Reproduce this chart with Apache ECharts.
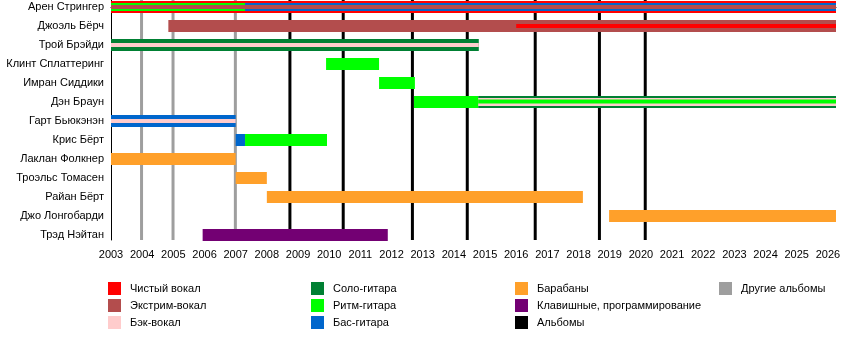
<!DOCTYPE html>
<html>
<head>
<meta charset="utf-8">
<script src="https://cdn.jsdelivr.net/npm/echarts@6/dist/echarts.min.js"></script>
<style>html,body{margin:0;padding:0;background:#fff}#c{width:850px;height:360px}</style>
</head>
<body>
<div id="c"></div>
<script>
const members = ['Арен Стрингер','Джоэль Бёрч','Трой Брэйди','Клинт Сплаттеринг','Имран Сиддики','Дэн Браун','Гарт Бьюкэнэн','Крис Бёрт','Лаклан Фолкнер','Троэльс Томасен','Райан Бёрт','Джо Лонгобарди','Трэд Нэйтан'];
const roles = ['Чистый вокал','Экстрим-вокал','Бэк-вокал','Соло-гитара','Ритм-гитара','Бас-гитара','Барабаны','Клавишные, программирование'];
const roleColors = ['#ff0000','#b34d4d','#ffcccc','#008033','#00ff00','#0066cc','#ffa02a','#730073'];
const tickYears = [2003,2004,2005,2006,2007,2008,2009,2010,2011,2012,2013,2014,2015,2016,2017,2018,2019,2020,2021,2022,2023,2024,2025,2026];
const START = 2003;
const END = 2026.26;
const albums = [2008.74, 2010.45, 2012.67, 2014.43, 2016.61, 2018.67, 2020.14];
const otherAlbums = [2003.98, 2004.99, 2006.99];
// [member, role, from, to, layer]
const periods = [
  [0, 0, 2003, END, 0],
  [0, 4, 2003, 2007.3, 1],
  [0, 5, 2007.3, END, 1],
  [0, 1, 2003, END, 2],
  [1, 1, 2004.84, END, 0],
  [1, 0, 2016.0, END, 2],
  [2, 3, 2003, 2014.8, 0],
  [2, 2, 2003, 2014.8, 2],
  [3, 4, 2009.9, 2011.6, 0],
  [4, 4, 2011.6, 2012.75, 0],
  [5, 4, 2012.72, 2014.78, 0],
  [5, 3, 2014.78, END, 0],
  [5, 2, 2014.78, END, 1],
  [5, 4, 2014.78, END, 2],
  [6, 5, 2003, 2007.0, 0],
  [6, 2, 2003, 2007.0, 2],
  [7, 5, 2007.0, 2007.3, 0],
  [7, 4, 2007.3, 2009.93, 0],
  [8, 6, 2003, 2007.0, 0],
  [9, 6, 2007.0, 2008.0, 0],
  [10, 6, 2008.0, 2018.14, 0],
  [11, 6, 2018.98, END, 0],
  [12, 7, 2005.94, 2011.88, 0]
];

const layerHeights = [12, 8, 4];

const chart = echarts.init(document.getElementById('c'), null, {renderer: 'canvas'});
const FONT = "'Liberation Sans', Arial, sans-serif";

const series = [];
roles.forEach((name, r) => {
  series.push({
    name: name,
    type: 'custom',
    z: 2,
    itemStyle: {color: roleColors[r]},
    encode: {x: [2, 3], y: 0},
    data: periods.filter(p => p[1] === r),
    renderItem: function (params, api) {
      const row = api.value(0), from = api.value(2), to = api.value(3), layer = api.value(4);
      const a = api.coord([from, row]);
      const b = api.coord([to, row]);
      const h = layerHeights[layer];
      const off = layer === 2 && api.value(1) === 4 ? -0.5 : 0;
      return {
        type: 'rect',
        z2: layer * 10,
        shape: {x: a[0], y: a[1] - h / 2 + off, width: b[0] - a[0], height: h},
        style: {fill: roleColors[r]}
      };
    }
  });
});

function lineSeries(name, values, color) {
  return {
    name: name,
    type: 'custom',
    z: 1,
    itemStyle: {color: color},
    encode: {x: 0},
    data: values.map(v => [v]),
    renderItem: function (params, api) {
      const x = api.coord([api.value(0), 0])[0];
      const cs = params.coordSys;
      return {
        type: 'line',
        shape: {x1: x, y1: cs.y, x2: x, y2: cs.y + cs.height},
        style: {stroke: color, lineWidth: 3}
      };
    }
  };
}
series.push(lineSeries('Альбомы', albums, '#000000'));
series.push(lineSeries('Другие альбомы', otherAlbums, '#9e9e9e'));

function legendCol(data, left) {
  return {
    data: data, left: left, top: 282, orient: 'vertical', padding: 0,
    itemWidth: 13, itemHeight: 13, itemGap: 4, icon: 'rect', selectedMode: false,
    textStyle: {fontSize: 11, color: '#000', fontFamily: FONT, padding: [0, 0, 0, 4]}
  };
}

chart.setOption({
  animation: false,
  textStyle: {fontFamily: FONT},
  grid: {left: 111, right: 14, top: 0, height: 240},
  xAxis: {
    type: 'value', min: START, max: END, interval: 1,
    splitLine: {show: false},
    axisLine: {show: true, lineStyle: {color: '#000', width: 1}},
    axisTick: {show: true, length: 6, lineStyle: {color: '#000'}, customValues: tickYears},
    axisLabel: {fontSize: 11, color: '#000', margin: 9, fontFamily: FONT, customValues: tickYears, formatter: v => String(v)}
  },
  yAxis: {
    type: 'value', inverse: true, min: -0.368, max: 12.263,
    splitLine: {show: false},
    axisLine: {show: true, lineStyle: {color: '#000', width: 1}},
    axisTick: {show: false},
    axisLabel: {
      fontSize: 11, color: '#000', margin: 7, fontFamily: FONT,
      customValues: members.map((m, i) => i),
      formatter: v => members[Math.round(v)] || ''
    }
  },
  legend: [
    legendCol(roles.slice(0, 3), 108),
    legendCol(roles.slice(3, 6), 311),
    legendCol([roles[6], roles[7], 'Альбомы'], 515),
    legendCol(['Другие альбомы'], 719)
  ],
  series: series
});
</script>
</body>
</html>
